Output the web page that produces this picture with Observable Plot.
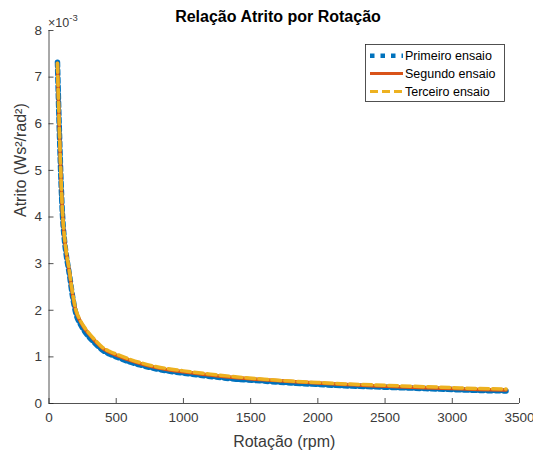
<!DOCTYPE html>
<html>
<head>
<meta charset="utf-8">
<script src="https://cdn.jsdelivr.net/npm/d3@7"></script>
<script src="https://cdn.jsdelivr.net/npm/@observablehq/plot@0.6"></script>
<style>
  html, body { margin: 0; padding: 0; background: #fff; }
  #chart { width: 533px; height: 452px; }
</style>
</head>
<body>
<div id="chart"></div>
<script>
// Rotação (rpm)
const rpm = [63, 70, 80, 90, 100, 115, 130, 150, 175, 200, 230, 260, 300, 350, 400, 450, 500, 600, 700, 800, 900, 1000, 1200, 1400, 1600, 1800, 2000, 2200, 2400, 2600, 2800, 3000, 3200, 3400];
// Atrito (×10^-3 Ws²/rad²)
const primeiro = [7.32, 6.55, 5.58, 4.72, 4.06, 3.50, 3.15, 2.80, 2.30, 1.93, 1.72, 1.57, 1.42, 1.27, 1.14, 1.06, 1.00, 0.89, 0.81, 0.74, 0.69, 0.65, 0.58, 0.52, 0.48, 0.44, 0.41, 0.38, 0.36, 0.34, 0.32, 0.30, 0.28, 0.27];
const segundo  = [7.30, 6.55, 5.60, 4.75, 4.10, 3.55, 3.20, 2.85, 2.35, 1.98, 1.78, 1.63, 1.48, 1.32, 1.18, 1.10, 1.04, 0.93, 0.84, 0.77, 0.72, 0.68, 0.61, 0.55, 0.51, 0.47, 0.44, 0.41, 0.38, 0.36, 0.34, 0.32, 0.30, 0.29];
const terceiro = [7.30, 6.57, 5.62, 4.78, 4.13, 3.58, 3.23, 2.88, 2.38, 2.01, 1.80, 1.65, 1.50, 1.34, 1.20, 1.12, 1.06, 0.95, 0.86, 0.79, 0.74, 0.70, 0.63, 0.57, 0.52, 0.48, 0.45, 0.42, 0.40, 0.38, 0.36, 0.34, 0.32, 0.31];
const xTicks = [0, 500, 1000, 1500, 2000, 2500, 3000, 3500];
const yTicks = [0, 1, 2, 3, 4, 5, 6, 7, 8];
const seriesNames = ["Primeiro ensaio", "Segundo ensaio", "Terceiro ensaio"];
const seriesColors = ["#0072BD", "#D95319", "#EDB120"];

const toRows = (vals) => rpm.map((r, i) => ({rpm: r, v: vals[i]}));

const W = 533, H = 452;
const mL = 48.5, mR = 14, mT = 30, mB = 49;
const pw = W - mL - mR, ph = H - mT - mB;
const axisColor = "#262626";
const font = "'Liberation Sans', Arial, Helvetica, sans-serif";

const chart = Plot.plot({
  width: W, height: H,
  marginLeft: mL, marginRight: mR, marginTop: mT, marginBottom: mB,
  style: {fontFamily: font, background: "white", color: axisColor, overflow: "visible"},
  x: {domain: [0, 3500]},
  y: {domain: [0, 8]},
  marks: [
    Plot.axisX(xTicks, {tickSize: 0, tickPadding: 9, fontSize: 13.5, fill: "#3a3a3a", label: null, tickFormat: d => String(d)}),
    Plot.axisY(yTicks, {tickSize: 0, tickPadding: 7, fontSize: 13.5, fill: "#3a3a3a", label: null, tickFormat: d => String(d)}),
    Plot.tickX(xTicks, {x: d => d, insetTop: ph - 5, stroke: axisColor, strokeWidth: 0.8}),
    Plot.tickY(yTicks, {y: d => d, insetRight: pw - 5, stroke: axisColor, strokeWidth: 0.8}),
    Plot.lineY(toRows(primeiro), {x: "rpm", y: "v", stroke: seriesColors[0], strokeWidth: 5.5, strokeDasharray: "4 4", curve: "monotone-x"}),
    Plot.lineY(toRows(segundo), {x: "rpm", y: "v", stroke: seriesColors[1], strokeWidth: 3.5, curve: "monotone-x"}),
    Plot.lineY(toRows(terceiro), {x: "rpm", y: "v", stroke: seriesColors[2], strokeWidth: 3.5, strokeDasharray: "9 4", curve: "monotone-x"}),
    Plot.ruleX([0], {stroke: axisColor, strokeWidth: 0.8}),
    Plot.ruleY([0], {stroke: axisColor, strokeWidth: 0.8}),
    Plot.text(["Rotação (rpm)"], {frameAnchor: "bottom", dy: 38, fontSize: 16, fill: "#3a3a3a", lineAnchor: "middle"}),
    Plot.text(["Atrito (Ws²/rad²)"], {frameAnchor: "left", dx: -28, rotate: -90, fontSize: 16, fill: "#3a3a3a", lineAnchor: "middle"})
  ]
});
document.getElementById("chart").appendChild(chart);

const svg = d3.select(chart);
// Title
svg.append("text")
  .attr("x", 278).attr("y", 22)
  .attr("text-anchor", "middle")
  .attr("font-family", font).attr("font-size", 16).attr("font-weight", "bold")
  .attr("fill", "#000")
  .text("Relação Atrito por Rotação");
// Exponent label
const ex = svg.append("text")
  .attr("x", 48).attr("y", 27)
  .attr("text-anchor", "start")
  .attr("font-family", font).attr("font-size", 12.5).attr("fill", "#3a3a3a");
ex.append("tspan").text("×10");
ex.append("tspan").attr("dy", -6).attr("font-size", 9.5).text("-3");

// Legend
const lg = svg.append("g");
lg.append("rect").attr("x", 365.5).attr("y", 44.5).attr("width", 139).attr("height", 57)
  .attr("fill", "white").attr("stroke", axisColor).attr("stroke-width", 0.8);
const rowsY = [55.7, 73.5, 91.5];
const legendStyles = [
  {w: 4.5, dash: "4.5 6"},
  {w: 3, dash: null},
  {w: 3, dash: "8 4"}
];
seriesNames.forEach((name, i) => {
  const l = lg.append("line")
    .attr("x1", 370).attr("x2", 403).attr("y1", rowsY[i]).attr("y2", rowsY[i])
    .attr("stroke", seriesColors[i]).attr("stroke-width", legendStyles[i].w);
  if (legendStyles[i].dash) l.attr("stroke-dasharray", legendStyles[i].dash);
  lg.append("text").attr("x", 405).attr("y", rowsY[i]).attr("dy", "0.35em")
    .attr("text-anchor", "start")
    .attr("font-family", font).attr("font-size", 12.5).attr("fill", "#000").text(name);
});
</script>
</body>
</html>
